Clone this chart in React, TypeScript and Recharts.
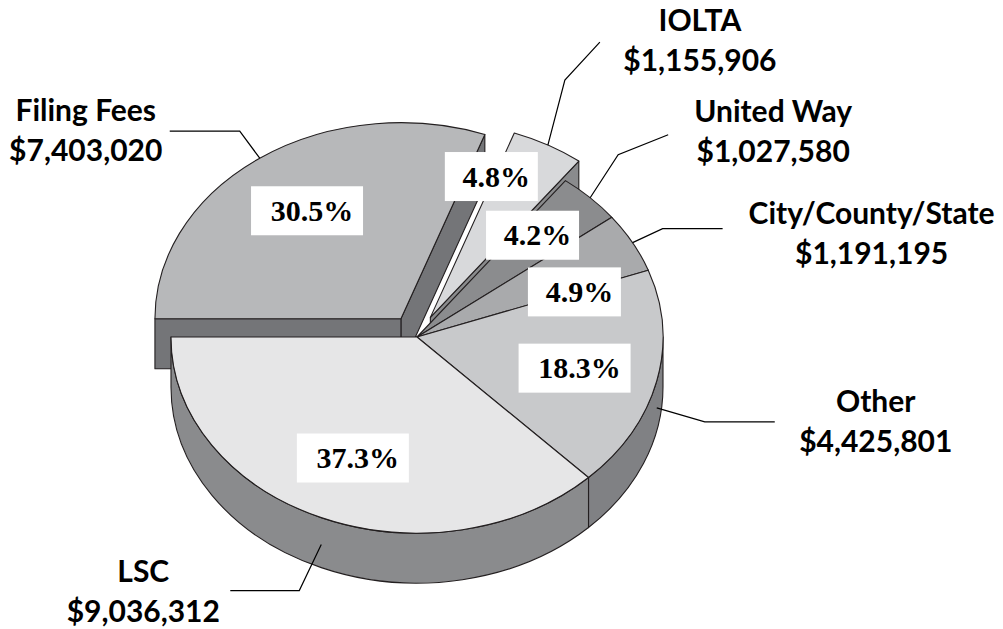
// 資金源の内訳(3D 風の分割パイ)
import { Pie, PieChart } from "recharts";

// データ(反時計回り、左端 180° から)
const NAMES = ["LSC", "Other", "City/County/State", "United Way", "IOLTA", "Filing Fees"];
const AMOUNTS = [9036312, 4425801, 1191195, 1027580, 1155906, 7403020];

// 見た目
const TOP = ["#e6e6e7", "#c8c9cb", "#a9aaac", "#8b8c8e", "#d8d9db", "#b7b8ba"];
const SIDE = ["#8a8b8d", "#808184", "#8a8b8d", "#6f7073", "#8a8b8d", "#747578"];
const EXPLODE = [0, 0, 0, 0, 28, 28];
const OUTLINE = "#231f20";

// 幾何
const CX = 417;
const CY = 337;
const RX = 246;
const TILT = 0.797; // 縦/横
const DEPTH = 50;

// % ボックスの位置調整 [角度ずれ, 半径比]
const PCT_POS: [number, number][] = [
  [0, 0.67],
  [-1, 0.66],
  [-9, 0.68],
  [2.6, 0.7],
  [9.5, 0.76],
  [-0.3, 0.67],
];
// 引出し線 [dx1, dy1, dx2, dy2] とテキスト位置 [dx, dy]
const LEADER: number[][] = [
  [-22, 46, -69, 0],
  [48, 14, 70, 0],
  [30, -14, 60, 0],
  [28, -43, 50, -20],
  [17, -65, 35, -38],
  [-20, -27, -70, 0],
];
const TEXT_AT: number[][] = [
  [-87, -9],
  [101, -10],
  [149, -5],
  [105, -13],
  [100, -11],
  [-84, -10],
];

const table = NAMES.map((name, i) => ({ name, value: AMOUNTS[i], idx: i })).reverse();

const rad = (a: number) => (a * Math.PI) / 180;
const pt = (ox: number, oy: number, r: number, a: number): [number, number] => [
  ox + r * Math.cos(rad(a)),
  oy - r * TILT * Math.sin(rad(a)),
];
const fmt = (p: [number, number]) => `${p[0].toFixed(2)},${p[1].toFixed(2)}`;

function origin(p: any, i: number): [number, number] {
  const d = EXPLODE[i];
  return [p.cx + d * Math.cos(rad(p.midAngle)), p.cy - d * TILT * Math.sin(rad(p.midAngle))];
}

// 1 枚のスライス(側面 → 上面)
function renderSlice(p: any) {
  const i = p.payload.idx;
  const span = Math.abs(p.endAngle - p.startAngle);
  const a1 = ((Math.min(p.startAngle, p.endAngle) % 360) + 360) % 360;
  const a2 = a1 + span;
  const r = p.outerRadius;
  const ry = r * TILT;
  const [ox, oy] = origin(p, i);
  const P1 = pt(ox, oy, r, a1);
  const P2 = pt(ox, oy, r, a2);
  const down = (q: [number, number]): [number, number] => [q[0], q[1] + DEPTH];
  const O: [number, number] = [ox, oy];

  const parts: string[] = [];
  // 切り口
  const face = (a: number) => {
    const q = pt(ox, oy, r, a);
    return `M${fmt(O)} L${fmt(q)} L${fmt(down(q))} L${fmt(down(O))} Z`;
  };
  if (Math.cos(rad(a1)) > 1e-6) parts.push(face(a1));
  if (Math.cos(rad(a2)) < -1e-6) parts.push(face(a2));
  // 外周
  for (const [lo, hi] of [
    [180, 360],
    [540, 720],
  ]) {
    const b1 = Math.max(a1, lo);
    const b2 = Math.min(a2, hi);
    if (b2 - b1 > 0.01) {
      const q1 = pt(ox, oy, r, b1);
      const q2 = pt(ox, oy, r, b2);
      parts.push(
        `M${fmt(q1)} A${r},${ry} 0 0 0 ${fmt(q2)} L${fmt(down(q2))} A${r},${ry} 0 0 1 ${fmt(down(q1))} Z`,
      );
    }
  }
  const large = span > 180 ? 1 : 0;
  const top = `M${fmt(O)} L${fmt(P1)} A${r},${ry} 0 ${large} 0 ${fmt(P2)} Z`;

  return (
    <g key={`s-${i}`}>
      {parts.map((d, k) => (
        <path key={k} d={d} fill={SIDE[i]} stroke={OUTLINE} strokeWidth={1.1} strokeLinejoin="round" />
      ))}
      <path d={top} fill={TOP[i]} stroke={OUTLINE} strokeWidth={1.1} strokeLinejoin="round" />
    </g>
  );
}

// % ボックスと外側ラベル
function renderLabels(p: any) {
  const i = p.payload.idx;
  const r = p.outerRadius;
  const [ox, oy] = origin(p, i);
  const [da, rr] = PCT_POS[i];
  const [bx, by] = pt(ox, oy, r * rr, p.midAngle + da);
  const pct = `${(p.percent * 100).toFixed(1)}%`;
  const w = 19 * pct.length + 17;

  let [sx, sy] = pt(ox, oy, r, p.midAngle);
  if (Math.sin(rad(p.midAngle)) < 0) sy += DEPTH * 0.54;
  const [dx1, dy1, dx2, dy2] = LEADER[i];
  const ex = sx + dx1;
  const ey = sy + dy1;
  const fx = ex + dx2;
  const fy = ey + dy2;
  const [tx, ty] = TEXT_AT[i];

  return (
    <g key={`l-${i}`}>
      <rect x={bx - w / 2} y={by - 24.5} width={w} height={49} fill="#ffffff" />
      <text
        x={bx + 5}
        y={by + 10}
        textAnchor="middle"
        fontFamily="'Liberation Serif', serif"
        fontWeight={700}
        fontSize={30}
        fill="#000"
      >
        {pct}
      </text>
      <polyline
        points={`${sx},${sy} ${ex},${ey} ${fx},${fy}`}
        fill="none"
        stroke="#000"
        strokeWidth={1.2}
      />
      <text
        x={fx + tx}
        y={fy + ty}
        textAnchor="middle"
        fontFamily="Lato, sans-serif"
        fontWeight={700}
        fontSize={30}
        fill="#000"
      >
        <tspan x={fx + tx}>{p.payload.name}</tspan>
        <tspan x={fx + tx} dy={40}>
          ${p.value.toLocaleString("en-US")}
        </tspan>
      </text>
    </g>
  );
}

export default function App() {
  return (
    <div style={{ position: "absolute", left: 0, top: 0, width: 1003, height: 629, background: "#fff" }}>
      <PieChart width={1003} height={629} margin={{ top: 0, right: 0, bottom: 0, left: 0 }}>
        <Pie
          data={table}
          dataKey="value"
          nameKey="name"
          cx={CX}
          cy={CY}
          outerRadius={RX}
          startAngle={540}
          endAngle={180}
          fill="none"
          stroke="none"
          labelLine={false}
          label={renderSlice}
          isAnimationActive={false}
        />
        <Pie
          data={table}
          dataKey="value"
          nameKey="name"
          cx={CX}
          cy={CY}
          outerRadius={RX}
          startAngle={540}
          endAngle={180}
          fill="none"
          stroke="none"
          labelLine={false}
          label={renderLabels}
          isAnimationActive={false}
        />
      </PieChart>
    </div>
  );
}
